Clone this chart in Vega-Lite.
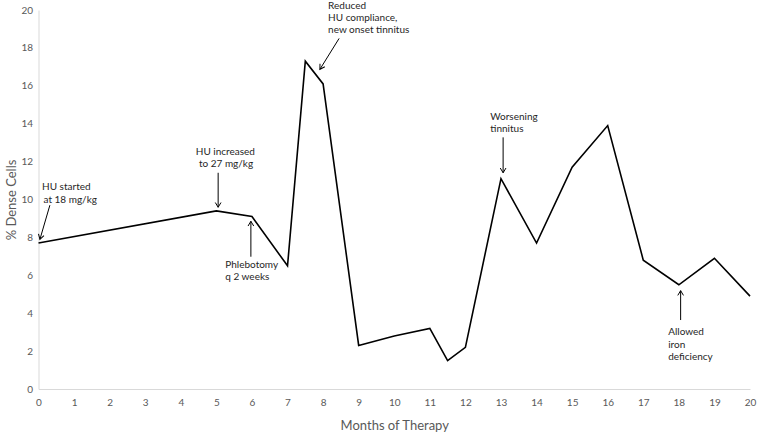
{
  "$schema": "https://vega.github.io/schema/vega-lite/v6.json",
  "autosize": "none",
  "width": 711.5,
  "height": 379,
  "padding": {"left": 38.5, "top": 10, "right": 10, "bottom": 45},
  "background": "white",
  "config": {
    "view": {"stroke": null},
    "font": "Lato",
    "axis": {"grid": false, "ticks": false, "domainColor": "#d9d9d9", "labelColor": "#595959", "labelFontSize": 10, "labelFont": "Lato", "titleFont": "Lato", "titleFontWeight": "normal", "titleColor": "#595959", "titleFontSize": 13}
  },
  "datasets": {
    "series": [
      {"x": 0, "y": 7.7},
      {"x": 5, "y": 9.4},
      {"x": 6, "y": 9.1},
      {"x": 7, "y": 6.5},
      {"x": 7.5, "y": 17.3},
      {"x": 8, "y": 16.1},
      {"x": 9, "y": 2.3},
      {"x": 10, "y": 2.8},
      {"x": 11, "y": 3.2},
      {"x": 11.5, "y": 1.5},
      {"x": 12, "y": 2.2},
      {"x": 13, "y": 11.1},
      {"x": 14, "y": 7.7},
      {"x": 15, "y": 11.7},
      {"x": 16, "y": 13.9},
      {"x": 17, "y": 6.8},
      {"x": 18, "y": 5.5},
      {"x": 19, "y": 6.9},
      {"x": 20, "y": 4.9}
    ],
    "arrows": [
      {"x": 0.04, "y": 7.9, "x2": 0.32, "y2": 9.7, "angle": 16},
      {"x": 5.05, "y": 9.59, "x2": 5.05, "y2": 11.41, "angle": 0},
      {"x": 5.97, "y": 8.85, "x2": 5.97, "y2": 6.98, "angle": 180},
      {"x": 7.91, "y": 16.87, "x2": 8.45, "y2": 18.5, "angle": 32},
      {"x": 13.06, "y": 11.41, "x2": 13.06, "y2": 13.28, "angle": 0},
      {"x": 18.05, "y": 5.19, "x2": 18.05, "y2": 3.64, "angle": 180}
    ],
    "labels": [
      {"x": 0.1, "y": 10.66, "text": "HU started"},
      {"x": 0.14, "y": 9.97, "text": "at 18 mg/kg"},
      {"x": 4.42, "y": 12.52, "text": "HU increased"},
      {"x": 4.51, "y": 11.86, "text": "to 27 mg/kg"},
      {"x": 5.25, "y": 6.54, "text": "Phlebotomy"},
      {"x": 5.25, "y": 5.93, "text": "q 2 weeks"},
      {"x": 8.14, "y": 20.23, "text": "Reduced"},
      {"x": 8.14, "y": 19.58, "text": "HU compliance,"},
      {"x": 8.14, "y": 18.94, "text": "new onset tinnitus"},
      {"x": 12.7, "y": 14.37, "text": "Worsening"},
      {"x": 12.7, "y": 13.74, "text": "tinnitus"},
      {"x": 17.7, "y": 2.99, "text": "Allowed"},
      {"x": 17.7, "y": 2.32, "text": "iron"},
      {"x": 17.7, "y": 1.67, "text": "deficiency"}
    ]
  },
  "encoding": {
    "x": {"field": "x", "type": "quantitative", "title": "Months of Therapy", "scale": {"domain": [0, 20], "nice": false}, "axis": {"values": [0,1,2,3,4,5,6,7,8,9,10,11,12,13,14,15,16,17,18,19,20], "labelOverlap": false, "labelFlush": false, "labelPadding": 8, "titlePadding": 12}},
    "y": {"field": "y", "type": "quantitative", "title": "% Dense Cells", "scale": {"domain": [0, 20], "nice": false}, "axis": {"values": [0,2,4,6,8,10,12,14,16,18,20], "labelOverlap": false, "labelFlush": false, "labelPadding": 6, "titlePadding": 2}}
  },
  "layer": [
    {
      "data": {"name": "series"},
      "mark": {"type": "line", "color": "black", "strokeWidth": 1.6}
    },
    {
      "data": {"name": "arrows"},
      "mark": {"type": "rule", "color": "black", "strokeWidth": 1},
      "encoding": {
        "x2": {"field": "x2"},
        "y2": {"field": "y2"}
      }
    },
    {
      "data": {"name": "arrows"},
      "mark": {"type": "point", "shape": "M-0.6,-1L0,0L0.6,-1", "filled": false, "stroke": "black", "strokeWidth": 1, "size": 90, "opacity": 1},
      "encoding": {
        "angle": {"field": "angle", "type": "quantitative", "scale": null}
      }
    },
    {
      "data": {"name": "labels"},
      "mark": {"type": "text", "align": "left", "baseline": "middle", "fontSize": 10, "color": "#262626", "font": "Lato"},
      "encoding": {
        "text": {"field": "text"}
      }
    }
  ]
}
